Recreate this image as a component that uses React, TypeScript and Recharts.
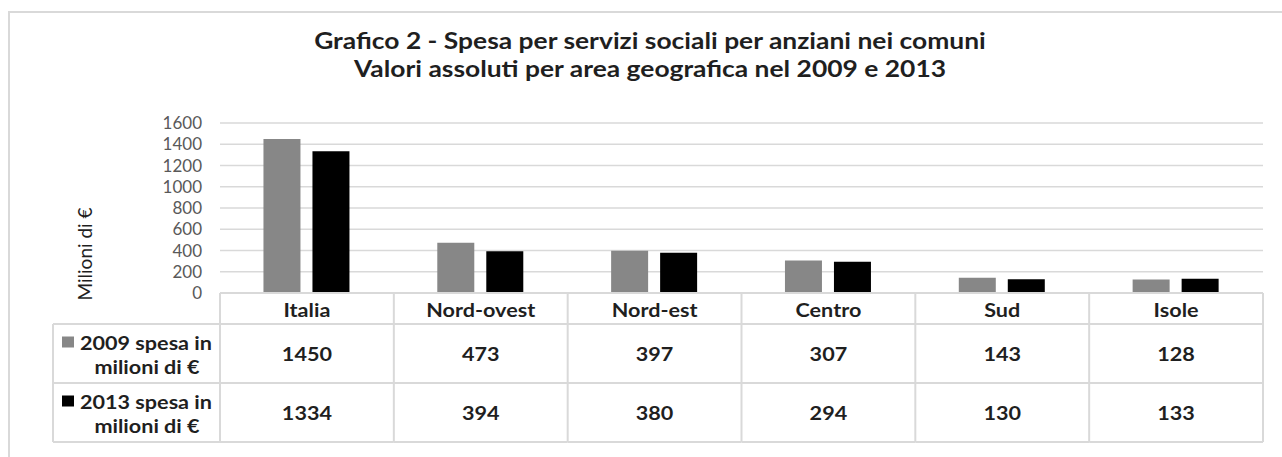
import React from 'react';
import { BarChart, Bar, XAxis, YAxis, CartesianGrid } from 'recharts';

// dati
const categories = ['Italia', 'Nord-ovest', 'Nord-est', 'Centro', 'Sud', 'Isole'];
const spesa2009 = [1450, 473, 397, 307, 143, 128];
const spesa2013 = [1334, 394, 380, 294, 130, 133];
const yTicks = [0, 200, 400, 600, 800, 1000, 1200, 1400, 1600];
const seriesNames = [
  ['2009 spesa in', 'milioni di €'],
  ['2013 spesa in', 'milioni di €'],
];
const seriesColors = ['#878787', '#000000'];

const data = categories.map((area, i) => ({
  area,
  s2009: spesa2009[i],
  s2013: spesa2013[i],
}));
const seriesValues = [spesa2009, spesa2013];

const FONT = 'Lato, "Open Sans", sans-serif';
const LINE = '#d9d9d9';
const TEXT = '#1f1f1f';
const PLOT_LEFT = 220;
const PLOT_RIGHT = 1263;
const BAND = (PLOT_RIGHT - PLOT_LEFT) / categories.length;
const HEADER_H = 31;
const ROW_H = [59, 59];
const LEGEND_LEFT = 53;
const STRETCH = 1.2; // il grafico originale è allargato in orizzontale

function CellText({ x, y, children, size = 18, anchor = 'middle' }: any) {
  return (
    <text
      transform={`translate(${x},${y}) scale(${STRETCH},1)`}
      textAnchor={anchor}
      dominantBaseline="central"
      fontFamily={FONT}
      fontWeight={700}
      fontSize={size}
      fill={TEXT}
    >
      {children}
    </text>
  );
}

function TableTick(props: any) {
  const { x, y, payload, index } = props;
  const left = x - BAND / 2;
  const right = x + BAND / 2;
  const r1 = y + HEADER_H;
  const r2 = r1 + ROW_H[0];
  const r3 = r2 + ROW_H[1];
  const rowTops = [r1, r2];
  const isLast = index === categories.length - 1;

  return (
    <g>
      <line x1={left} y1={y} x2={left} y2={r3} stroke={LINE} strokeWidth={2} />
      {isLast && <line x1={right} y1={y} x2={right} y2={r3} stroke={LINE} strokeWidth={2} />}
      <line x1={left} y1={r1} x2={right} y2={r1} stroke={LINE} strokeWidth={2} />
      <line x1={left} y1={r2} x2={right} y2={r2} stroke={LINE} strokeWidth={2} />
      <line x1={left} y1={r3} x2={right} y2={r3} stroke={LINE} strokeWidth={2} />
      <CellText x={x} y={y + HEADER_H / 2 + 1}>{payload.value}</CellText>
      {seriesValues.map((vals, s) => (
        <CellText key={s} x={x} y={rowTops[s] + ROW_H[s] / 2}>
          {vals[index]}
        </CellText>
      ))}
      {index === 0 && (
        <g>
          <line x1={LEGEND_LEFT} y1={r1} x2={left} y2={r1} stroke={LINE} strokeWidth={2} />
          <line x1={LEGEND_LEFT} y1={r2} x2={left} y2={r2} stroke={LINE} strokeWidth={2} />
          <line x1={LEGEND_LEFT} y1={r3} x2={left} y2={r3} stroke={LINE} strokeWidth={2} />
          <line x1={LEGEND_LEFT} y1={r1} x2={LEGEND_LEFT} y2={r3} stroke={LINE} strokeWidth={2} />
          {seriesNames.map((lines, s) => {
            const mid = rowTops[s] + ROW_H[s] / 2;
            return (
              <g key={s}>
                <rect x={62} y={mid - 17} width={12} height={11} fill={seriesColors[s]} />
                <CellText x={146} y={mid - 11}>{lines[0]}</CellText>
                <CellText x={147} y={mid + 13}>{lines[1]}</CellText>
              </g>
            );
          })}
        </g>
      )}
    </g>
  );
}

export default function App() {
  return (
    <div style={{ position: 'absolute', left: 0, top: 0, width: 1282, height: 457, background: '#fff', overflow: 'hidden' }}>
      {/* cornice */}
      <div
        style={{
          position: 'absolute',
          left: 8,
          top: 11,
          width: 1282,
          height: 460,
          borderTop: `2px solid ${LINE}`,
          borderLeft: `2px solid ${LINE}`,
        }}
      />
      <div
        style={{
          position: 'absolute',
          left: 0,
          width: 1300,
          top: 27,
          textAlign: 'center',
          fontFamily: FONT,
          fontWeight: 700,
          fontSize: 22,
          lineHeight: '28px',
          color: TEXT,
          transform: `scaleX(${STRETCH})`,
          transformOrigin: '650px 0',
        }}
      >
        <div>Grafico 2 - Spesa per servizi sociali per anziani nei comuni</div>
        <div>Valori assoluti per area geografica nel 2009 e 2013</div>
      </div>
      <div
        style={{
          position: 'absolute',
          left: 84,
          top: 254,
          transform: 'translate(-50%, -50%) rotate(-90deg)',
          whiteSpace: 'nowrap',
          fontFamily: FONT,
          fontSize: 19,
          color: TEXT,
        }}
      >
        Milioni di €
      </div>
      <div style={{ position: 'absolute', left: 0, top: 0 }}>
        <BarChart
          width={1282}
          height={457}
          data={data}
          margin={{ top: 123, right: 1282 - PLOT_RIGHT, bottom: 0, left: PLOT_LEFT - 60 }}
          barCategoryGap="25%"
          barGap={12}
        >
          <CartesianGrid vertical={false} stroke={LINE} strokeWidth={1.5} />
          <YAxis
            width={60}
            domain={[0, 1600]}
            ticks={yTicks}
            axisLine={false}
            tickLine={false}
            tickMargin={12}
            tick={{ fontFamily: FONT, fontSize: 17, fill: '#595959' }}
            interval={0}
          />
          <XAxis
            dataKey="area"
            height={164}
            tickSize={0}
            tickMargin={0}
            axisLine={{ stroke: LINE, strokeWidth: 2 }}
            tickLine={false}
            interval={0}
            tick={<TableTick />}
          />
          <Bar dataKey="s2009" fill={seriesColors[0]} isAnimationActive={false} />
          <Bar dataKey="s2013" fill={seriesColors[1]} isAnimationActive={false} />
        </BarChart>
      </div>
    </div>
  );
}
